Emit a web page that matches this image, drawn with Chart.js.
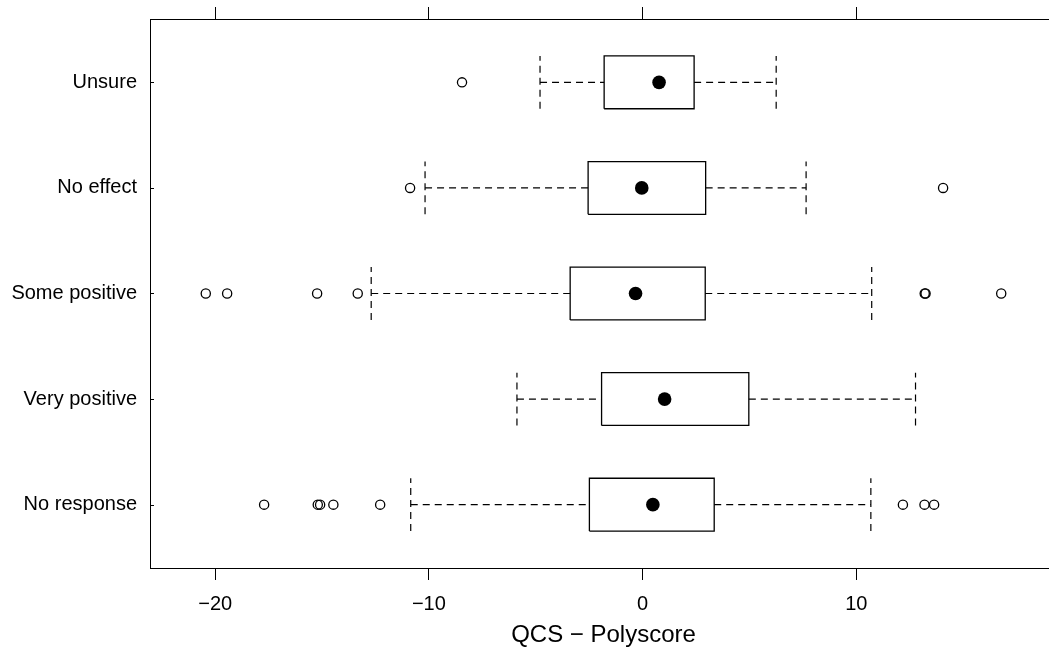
<!DOCTYPE html>
<html><head><meta charset="utf-8">
<script src="https://cdn.jsdelivr.net/npm/chart.js@4.4.1/dist/chart.umd.min.js"></script>
<style>html,body{margin:0;padding:0;background:#fff;overflow:hidden;width:1049px;height:655px}canvas{display:block}</style>
</head><body>
<canvas id="c" width="1070" height="655" style="width:1070px;height:655px"></canvas>
<script>
// Categories from bottom (y=1) to top (y=5)
const categories = ['No response', 'Very positive', 'Some positive', 'No effect', 'Unsure'];
const whiskerLow  = [-10.85, -5.88, -12.70, -10.18, -4.80];
const q1          = [-2.49, -1.92, -3.39, -2.55, -1.80];
const median      = [0.48, 1.03, -0.33, -0.04, 0.77];
const q3          = [3.35, 4.97, 2.93, 2.95, 2.41];
const whiskerHigh = [10.68, 12.77, 10.72, 7.65, 6.25];
const outliersNoResponse   = [-17.71, -15.20, -15.09, -14.47, -12.28, 12.18, 13.19, 13.64];
const outliersVeryPositive = [];
const outliersSomePositive = [-20.44, -19.44, -15.23, -13.33, 13.20, 13.24, 16.78];
const outliersNoEffect     = [-10.88, 14.06];
const outliersUnsure       = [-8.45];
const outliers = [outliersNoResponse, outliersVeryPositive, outliersSomePositive, outliersNoEffect, outliersUnsure];
const xTicks = [-20, -10, 0, 10];
const xLimits = [-23.05, 19.39];
const yLimits = [0.4, 5.6];
const halfBox = 0.25;

const datasets = [];
const dash = [7, 5];
categories.forEach((cat, i) => {
  const y = i + 1;
  datasets.push({label: cat + ' box', data: [
      {x: q1[i], y: y - halfBox}, {x: q3[i], y: y - halfBox},
      {x: q3[i], y: y + halfBox}, {x: q1[i], y: y + halfBox}, {x: q1[i], y: y - halfBox}],
    showLine: true, borderColor: '#000', borderWidth: 1.3, pointRadius: 0, fill: false, tension: 0});
  datasets.push({label: cat + ' lw', data: [{x: whiskerLow[i], y: y}, {x: q1[i], y: y}],
    showLine: true, borderColor: '#000', borderWidth: 1.2, borderDash: dash, pointRadius: 0});
  datasets.push({label: cat + ' hw', data: [{x: q3[i], y: y}, {x: whiskerHigh[i], y: y}],
    showLine: true, borderColor: '#000', borderWidth: 1.2, borderDash: dash, pointRadius: 0});
  datasets.push({label: cat + ' lc', data: [{x: whiskerLow[i], y: y - halfBox}, {x: whiskerLow[i], y: y + halfBox}],
    showLine: true, borderColor: '#000', borderWidth: 1.2, borderDash: dash, pointRadius: 0});
  datasets.push({label: cat + ' hc', data: [{x: whiskerHigh[i], y: y - halfBox}, {x: whiskerHigh[i], y: y + halfBox}],
    showLine: true, borderColor: '#000', borderWidth: 1.2, borderDash: dash, pointRadius: 0});
  datasets.push({label: cat + ' out', data: outliers[i].map(v => ({x: v, y: y})),
    showLine: false, pointRadius: 4.6, pointBorderWidth: 1.3, pointBackgroundColor: 'rgba(0,0,0,0)', pointBorderColor: '#000'});
  datasets.push({label: cat + ' med', data: [{x: median[i], y: y}],
    showLine: false, pointRadius: 6.8, pointBorderWidth: 0, pointBackgroundColor: '#000', pointBorderColor: '#000'});
});

const innerTicks = {
  id: 'innerTicks',
  afterDraw(chart) {
    const ys = chart.scales.y, ctx = chart.ctx, left = chart.chartArea.left;
    ctx.save();
    ctx.strokeStyle = '#000'; ctx.lineWidth = 1;
    categories.forEach((c, i) => {
      const py = Math.round(ys.getPixelForValue(i + 1)) + 0.5;
      ctx.beginPath(); ctx.moveTo(left, py); ctx.lineTo(left + 4, py); ctx.stroke();
    });
    ctx.restore();
  }
};

Chart.defaults.font.family = '"Liberation Sans", Arial, Helvetica, sans-serif';
Chart.defaults.color = '#000';

new Chart(document.getElementById('c'), {
  type: 'scatter',
  data: {datasets},
  plugins: [innerTicks],
  options: {
    responsive: false, animation: false, devicePixelRatio: 1,
    layout: {padding: {left: 0, right: 13, top: 0, bottom: 0}},
    plugins: {legend: {display: false}, tooltip: {enabled: false}},
    scales: {
      x: {
        type: 'linear', position: 'bottom', min: xLimits[0], max: xLimits[1],
        afterBuildTicks: s => { s.ticks = xTicks.map(v => ({value: v})); },
        afterFit: s => { s.height = 87; s.paddingLeft = 0; s.paddingRight = 0; },
        grid: {display: true, drawOnChartArea: false, drawTicks: true, tickLength: 12, color: '#000', lineWidth: 1},
        border: {display: true, color: '#000', width: 1},
        ticks: {font: {size: 20}, color: '#000', padding: 12, maxRotation: 0,
          callback: v => (v < 0 ? '\u2212' + Math.abs(v) : String(v))},
        title: {display: true, text: 'QCS \u2212 Polyscore', color: '#000', font: {size: 24}, padding: {top: 0, bottom: 5}}
      },
      x2: {
        type: 'linear', position: 'top', min: xLimits[0], max: xLimits[1],
        afterBuildTicks: s => { s.ticks = xTicks.map(v => ({value: v})); },
        afterFit: s => { s.height = 19; s.paddingLeft = 0; s.paddingRight = 0; },
        grid: {display: true, drawOnChartArea: false, drawTicks: true, tickLength: 12, color: '#000', lineWidth: 1},
        border: {display: true, color: '#000', width: 1},
        ticks: {display: false}
      },
      y: {
        type: 'linear', position: 'left', min: yLimits[0], max: yLimits[1],
        afterBuildTicks: s => { s.ticks = categories.map((c, i) => ({value: i + 1})); },
        afterFit: s => { s.width = 150; s.paddingTop = 0; s.paddingBottom = 0; },
        grid: {display: false, drawTicks: false},
        border: {display: true, color: '#000', width: 1},
        ticks: {font: {size: 20}, color: '#000', padding: 13,
          callback: v => categories[Math.round(v) - 1]}
      }
    }
  }
});
</script>
</body></html>
